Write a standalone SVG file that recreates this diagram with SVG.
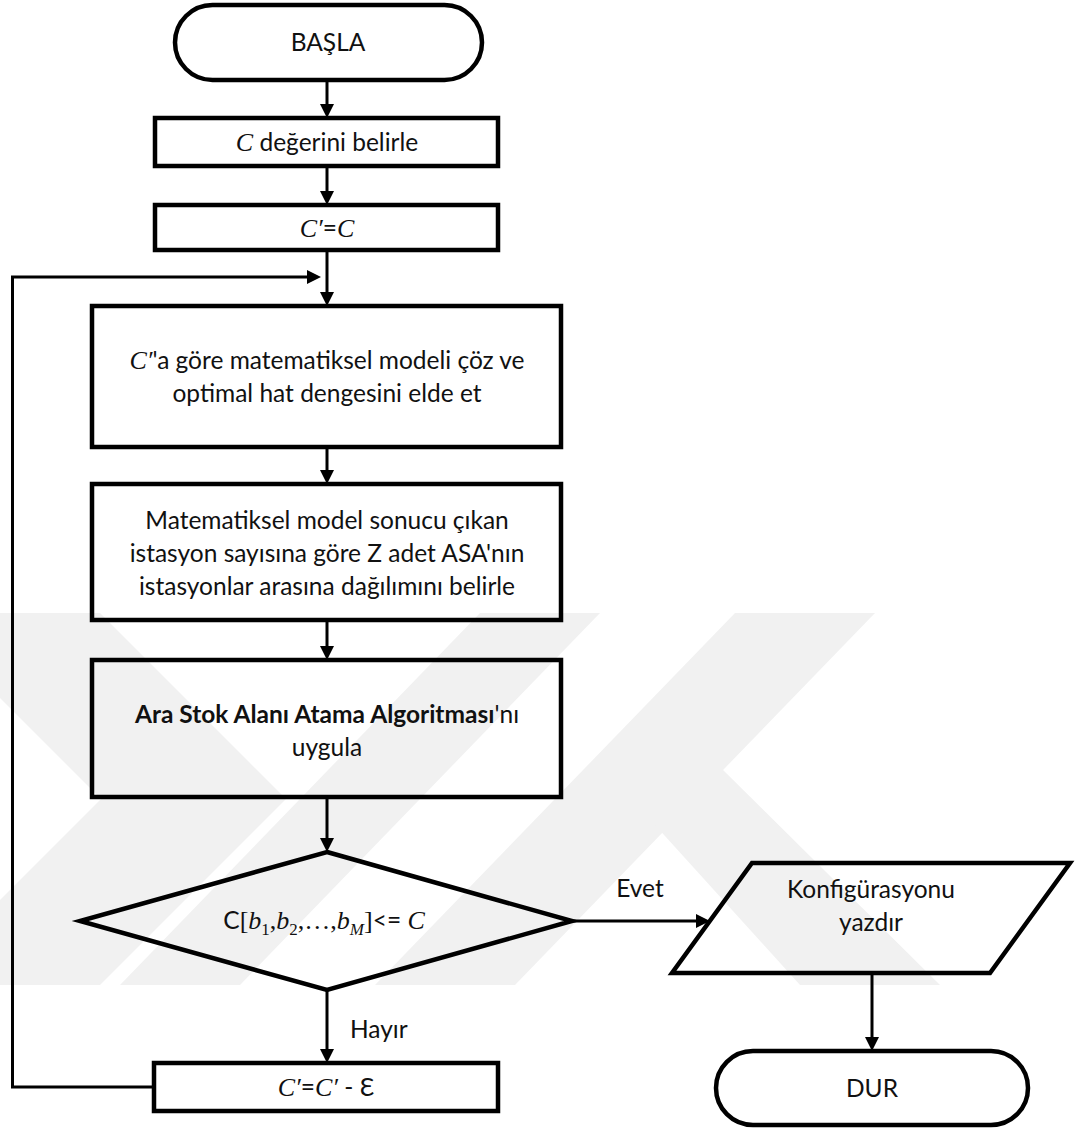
<svg xmlns="http://www.w3.org/2000/svg" width="1075" height="1131" viewBox="0 0 1075 1131">
  <defs>
    <style>
      .shape { fill: none; stroke: #000; stroke-width: 4.5; stroke-linejoin: miter; }
      .wire { fill: none; stroke: #000; stroke-width: 3; }
      .txt { font-family: Lato, "Liberation Sans", sans-serif; font-size: 24.5px; fill: #111; text-anchor: middle; }
      .lbl { font-family: Lato, "Liberation Sans", sans-serif; font-size: 24.5px; fill: #111; }
      .m { font-family: "Liberation Serif", "DejaVu Serif", serif; font-style: italic; font-size: 26px; }
      .mu { font-family: "Liberation Serif", "DejaVu Serif", serif; font-size: 26px; }
      .sub { font-family: "Liberation Serif", "DejaVu Serif", serif; font-size: 17px; }
      .b { font-weight: bold; }
      .wm { fill: #f1f1f1; }
    </style>
    <marker id="arrow" markerWidth="14" markerHeight="14" refX="10" refY="7" orient="auto" markerUnits="userSpaceOnUse">
      <path d="M0,0 L14,7 L0,14 z" fill="#000"/>
    </marker>
  </defs>

  <rect width="1075" height="1131" fill="#fff"/>

  <!-- faint background emblem -->
  <g id="background-emblem">
    <polygon class="wm" points="0,613 100,613 286,799 100,985 0,985 0,900 101,799 0,698"/>
    <polygon class="wm" points="480,613 600,613 240,985 120,985"/>
    <polygon class="wm" points="735,613 875,613 515,985 375,985"/>
    <polygon class="wm" points="655,825 718,765 940,985 800,985"/>
  </g>

  <!-- connectors -->
  <g id="connectors">
    <line class="wire" x1="327" y1="80" x2="327" y2="114" marker-end="url(#arrow)"/>
    <line class="wire" x1="327" y1="166" x2="327" y2="201" marker-end="url(#arrow)"/>
    <line class="wire" x1="327" y1="250" x2="327" y2="302" marker-end="url(#arrow)"/>
    <polyline class="wire" points="154,1087 12.5,1087 12.5,277 317,277" marker-end="url(#arrow)"/>
    <line class="wire" x1="327" y1="447" x2="327" y2="480" marker-end="url(#arrow)"/>
    <line class="wire" x1="327" y1="620" x2="327" y2="656" marker-end="url(#arrow)"/>
    <line class="wire" x1="327" y1="797" x2="327" y2="848" marker-end="url(#arrow)"/>
    <line class="wire" x1="572" y1="921" x2="706" y2="921" marker-end="url(#arrow)"/>
    <line class="wire" x1="327" y1="990" x2="327" y2="1059" marker-end="url(#arrow)"/>
    <line class="wire" x1="872" y1="973" x2="872" y2="1047" marker-end="url(#arrow)"/>
    <text class="lbl" x="640" y="897" text-anchor="middle">Evet</text>
    <text class="lbl" x="350" y="1038">Hayır</text>
  </g>

  <g id="n-basla">
    <rect class="shape" x="175" y="5" width="307" height="75" rx="37.5" ry="37.5"/>
    <text class="txt" x="328" y="51">BAŞLA</text>
  </g>

  <g id="n-c-belirle">
    <rect class="shape" x="155" y="118" width="343" height="48"/>
    <text class="txt" x="327" y="151"><tspan class="m">C</tspan> değerini belirle</text>
  </g>

  <g id="n-c-prime">
    <rect class="shape" x="155" y="205" width="343" height="45"/>
    <text class="txt" x="327" y="237"><tspan class="m">C′</tspan>=<tspan class="m">C</tspan></text>
  </g>

  <g id="n-model">
    <rect class="shape" x="92" y="306" width="469" height="141"/>
    <text class="txt" x="327" y="369"><tspan class="m">C′</tspan>'a göre matematiksel modeli çöz ve</text>
    <text class="txt" x="327" y="402">optimal hat dengesini elde et</text>
  </g>

  <g id="n-dagilim">
    <rect class="shape" x="92" y="484" width="469" height="136"/>
    <text class="txt" x="327" y="529">Matematiksel model sonucu çıkan</text>
    <text class="txt" x="327" y="562">istasyon sayısına göre Z adet ASA'nın</text>
    <text class="txt" x="327" y="595">istasyonlar arasına dağılımını belirle</text>
  </g>

  <g id="n-asa">
    <rect class="shape" x="92" y="660" width="469" height="137"/>
    <text class="txt" x="327" y="723"><tspan class="b">Ara Stok Alanı Atama Algoritması</tspan>'nı</text>
    <text class="txt" x="327" y="756">uygula</text>
  </g>

  <g id="n-karar">
    <polygon class="shape" points="327,852 572,921 327,990 80,921"/>
    <text class="txt" x="324" y="929">C<tspan class="mu">[</tspan><tspan class="m">b</tspan><tspan class="sub" dy="6">1</tspan><tspan class="mu" dy="-6">,</tspan><tspan class="m">b</tspan><tspan class="sub" dy="6">2</tspan><tspan class="mu" dy="-6">,…,</tspan><tspan class="m">b</tspan><tspan class="sub" font-style="italic" dy="6">M</tspan><tspan class="mu" dy="-6">]</tspan>&lt;= <tspan class="m">C</tspan></text>
  </g>

  <g id="n-yazdir">
    <polygon class="shape" points="752,863 1070,863 990,973 672,973"/>
    <text class="txt" x="871" y="898">Konfigürasyonu</text>
    <text class="txt" x="871" y="931">yazdır</text>
  </g>

  <g id="n-dur">
    <rect class="shape" x="716" y="1051" width="312" height="74" rx="37" ry="37"/>
    <text class="txt" x="872" y="1097">DUR</text>
  </g>

  <g id="n-azalt">
    <rect class="shape" x="154" y="1063" width="344" height="48"/>
    <text class="txt" x="326" y="1096"><tspan class="m">C′</tspan>=<tspan class="m">C′</tspan> - Ɛ</text>
  </g>
</svg>
